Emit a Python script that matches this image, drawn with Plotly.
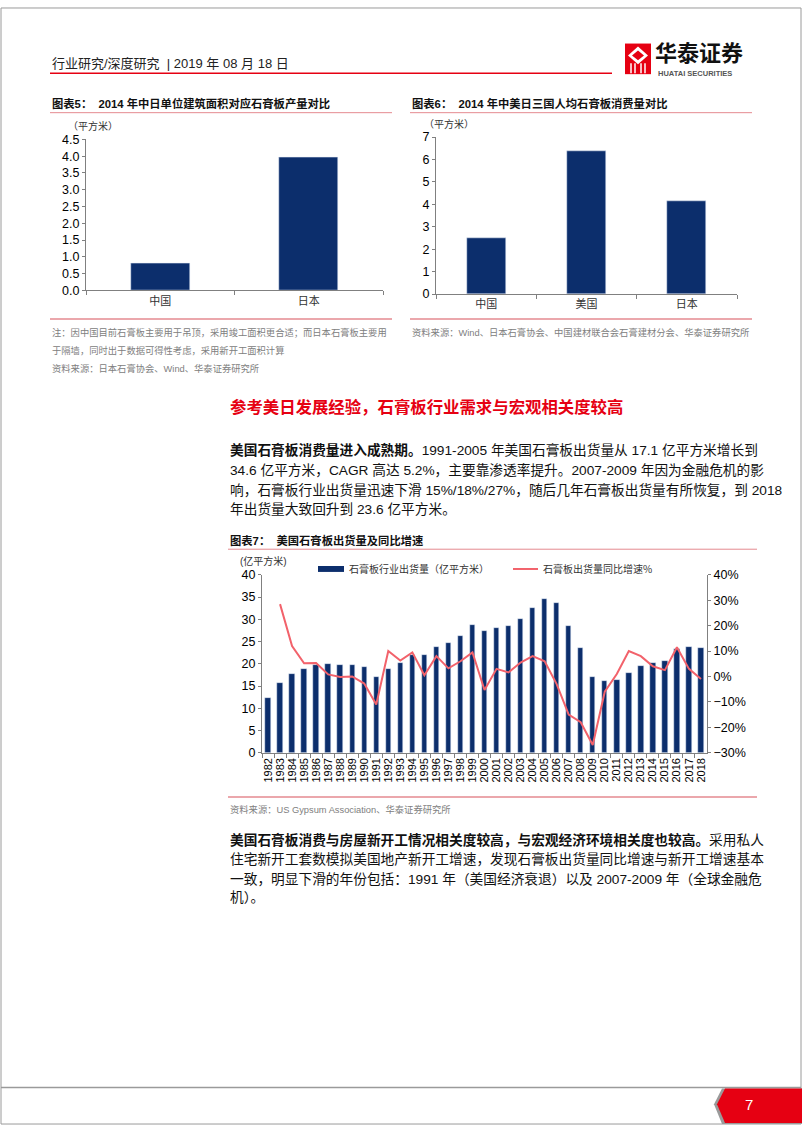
import plotly.graph_objects as go

W, H = 802, 1133

# 图表5
c5_cats = ["中国", "日本"]
c5_vals = [0.80, 3.95]

# 图表6
c6_cats = ["中国", "美国", "日本"]
c6_vals = [2.52, 6.37, 4.15]

# 图表7
years = ["1982", "1983", "1984", "1985", "1986", "1987", "1988", "1989", "1990",
         "1991", "1992", "1993", "1994", "1995", "1996", "1997", "1998", "1999",
         "2000", "2001", "2002", "2003", "2004", "2005", "2006", "2007", "2008",
         "2009", "2010", "2011", "2012", "2013", "2014", "2015", "2016", "2017",
         "2018"]
shipments = [12.3, 15.8, 17.8, 18.8, 19.8, 19.9, 19.8, 19.8, 19.3,
             17.1, 18.9, 20.1, 22.0, 22.0, 23.9, 24.6, 26.2, 28.8,
             27.3, 28.1, 28.5, 30.1, 32.6, 34.5, 33.7, 28.5, 23.5,
             17.1, 16.1, 16.3, 17.9, 19.5, 20.2, 20.7, 23.3, 23.9,
             23.6]
growth = [None, 28.5, 12.0, 5.2, 5.3, 0.8, -0.2, 0.0, -2.8,
          -11.0, 10.0, 6.3, 9.5, 0.5, 8.0, 3.2, 6.0, 9.5,
          -5.3, 3.0, 1.6, 5.5, 8.0, 6.0, -3.0, -15.0, -18.0,
          -27.0, -6.0, 1.0, 10.0, 8.0, 4.0, 2.5, 11.5, 3.0,
          -1.0]
growth = [None if g is None else g / 100 for g in growth]

NAVY = "#0C2E6C"
CORAL = "#F2626B"
RED = "#E60012"
PINK = "#E58A90"
GREY = "#808080"
CJK = "Noto Sans CJK SC"
MIX = "Liberation Sans, Noto Sans CJK SC"


def X(px):
    return px / W


def Y(py):
    return 1 - py / H


fig = go.Figure()

fig.add_trace(go.Bar(x=c5_cats, y=c5_vals, marker_color=NAVY, width=0.4,
                     xaxis="x", yaxis="y", showlegend=False))
fig.add_trace(go.Bar(x=c6_cats, y=c6_vals, marker_color=NAVY, width=0.39,
                     xaxis="x2", yaxis="y2", showlegend=False))
fig.add_trace(go.Bar(x=years, y=shipments, marker_color=NAVY, width=0.45,
                     xaxis="x3", yaxis="y3", showlegend=False))
fig.add_trace(go.Scatter(x=years, y=growth, mode="lines",
                         line=dict(color=CORAL, width=2),
                         xaxis="x3", yaxis="y4", showlegend=False))

xcommon = dict(type="category", showline=True, linecolor=GREY, linewidth=1,
               ticks="outside", tickson="boundaries", ticklen=4, tickcolor=GREY,
               showgrid=False, zeroline=False, fixedrange=True)
ycommon = dict(showline=True, linecolor=GREY, linewidth=1, ticks="outside",
               ticklen=3, tickcolor=GREY, showgrid=False, zeroline=False,
               tickfont=dict(family=MIX, size=12.5, color="#000"))

fig.update_layout(
    width=W, height=H, margin=dict(l=0, r=0, t=0, b=0),
    paper_bgcolor="white", plot_bgcolor="white",
    bargap=0,
    xaxis=dict(xcommon, domain=[X(86), X(383)], anchor="y",
               tickfont=dict(family=CJK, size=11, color="#333")),
    yaxis=dict(ycommon, domain=[Y(287), Y(134)], anchor="x",
               range=[0, 4.5], dtick=0.5, tickformat=".1f"),
    xaxis2=dict(xcommon, domain=[X(436), X(737)], anchor="y2",
                tickfont=dict(family=CJK, size=11, color="#333")),
    yaxis2=dict(ycommon, domain=[Y(290.7), Y(131.7)], anchor="x2",
                range=[0, 7], dtick=1),
    xaxis3=dict(xcommon, domain=[X(262), X(707)], anchor="y3", tickangle=-90,
                tickmode="linear", dtick=1,
                tickfont=dict(family=MIX, size=11, color="#000")),
    yaxis3=dict(ycommon, domain=[Y(755), Y(575)], anchor="x3",
                range=[0, 40], dtick=5),
    yaxis4=dict(ycommon, overlaying="y3", side="right", anchor="x3",
                range=[-0.3, 0.4], dtick=0.1, tickformat=".0%"),
)

shapes = []
annots = []


def line(x0, y0, x1, y1, color, width=1):
    shapes.append(dict(type="line", xref="paper", yref="paper",
                       x0=X(x0), y0=Y(y0), x1=X(x1), y1=Y(y1),
                       line=dict(color=color, width=width)))


def text(x, y, s, size, color="#000", family=CJK, anchor="left"):
    annots.append(dict(x=X(x), y=Y(y), xref="paper", yref="paper", text=s,
                       showarrow=False, xanchor=anchor, yanchor="middle",
                       font=dict(family=family, size=size, color=color)))


# page frame
shapes.append(dict(type="rect", xref="paper", yref="paper",
                   x0=X(1), y0=Y(1), x1=X(801), y1=Y(1131),
                   line=dict(color="#9A9A9A", width=1)))

# header
text(50, 57, "行业研究/深度研究 &nbsp;| 2019 年 08 月 18 日", 13, "#222", MIX)
line(50, 67, 612, 67, RED, 1.5)
shapes.append(dict(type="rect", xref="paper", yref="paper",
                   x0=X(625), y0=Y(37), x1=X(651), y1=Y(68),
                   fillcolor=RED, line=dict(width=0)))
shapes.append(dict(type="path", xref="paper", yref="paper",
                   path="M {} {} L {} {} L {} {} L {} {} Z".format(
                       X(638), Y(40), X(648), Y(49), X(638), Y(58), X(628), Y(49)),
                   fillcolor="white", line=dict(width=0)))
shapes.append(dict(type="path", xref="paper", yref="paper",
                   path="M {} {} L {} {} L {} {} L {} {} Z".format(
                       X(638), Y(44), X(644), Y(49), X(638), Y(54), X(632), Y(49)),
                   fillcolor=RED, line=dict(width=0)))
for vx in [631, 635, 641, 645]:
    line(vx, 57, vx, 67, "white", 1.5)
text(653, 45, "<b>华泰证券</b>", 22, "#111")
text(656, 67, "<b>HUATAI SECURITIES</b>", 7.5, "#555", MIX)

# chart 5 / 6 frames and notes
text(50, 98, "<b>图表5：  2014 年中日单位建筑面积对应石膏板产量对比</b>", 11.3, "#111", MIX)
line(50, 107, 392, 107, PINK, 1)
text(66, 120, "（平方米）", 10, "#333")
line(50, 316, 392, 316, PINK, 1.5)
text(410, 98, "<b>图表6：  2014 年中美日三国人均石膏板消费量对比</b>", 11.3, "#111", MIX)
line(410, 107, 752, 107, PINK, 1)
text(422, 118, "（平方米）", 10, "#333")
line(410, 316, 752, 316, PINK, 1.5)

NOTE = "#808080"
text(50, 330, "注：因中国目前石膏板主要用于吊顶，采用竣工面积更合适；而日本石膏板主要用", 9.3, NOTE, MIX)
text(50, 348, "于隔墙，同时出于数据可得性考虑，采用新开工面积计算", 9.3, NOTE, MIX)
text(50, 366, "资料来源：日本石膏协会、Wind、华泰证券研究所", 9.3, NOTE, MIX)
text(410, 330, "资料来源：Wind、日本石膏协会、中国建材联合会石膏建材分会、华泰证券研究所", 9.3, NOTE, MIX)

# section text
text(228, 404, "<b>参考美日发展经验，石膏板行业需求与宏观相关度较高</b>", 16.4, RED)
BODY = 13.7
text(228, 449, "<b>美国石膏板消费量进入成熟期。</b>1991-2005 年美国石膏板出货量从 17.1 亿平方米增长到", BODY, "#111", MIX)
text(228, 469, "34.6 亿平方米，CAGR 高达 5.2%，主要靠渗透率提升。2007-2009 年因为金融危机的影", BODY, "#111", MIX)
text(228, 489, "响，石膏板行业出货量迅速下滑 15%/18%/27%，随后几年石膏板出货量有所恢复，到 2018", BODY, "#111", MIX)
text(228, 508, "年出货量大致回升到 23.6 亿平方米。", BODY, "#111", MIX)

# chart 7 frame
text(228, 540, "<b>图表7：  美国石膏板出货量及同比增速</b>", 11.3, "#111", MIX)
line(228, 549, 757, 549, PINK, 1)
text(238, 561, "(亿平方米)", 10, "#333", MIX)
shapes.append(dict(type="rect", xref="paper", yref="paper",
                   x0=X(318), y0=Y(566), x1=X(344), y1=Y(572),
                   fillcolor=NAVY, line=dict(width=0)))
text(347, 569, "石膏板行业出货量（亿平方米）", 10, "#333")
line(513, 569, 538, 569, CORAL, 2)
text(541, 569, "石膏板出货量同比增速%", 10, "#333")
line(228, 800, 757, 800, PINK, 1.5)
text(228, 813, "资料来源：US Gypsum Association、华泰证券研究所", 9.3, NOTE, MIX)

text(228, 843, "<b>美国石膏板消费与房屋新开工情况相关度较高，与宏观经济环境相关度也较高。</b>采用私人", BODY, "#111", MIX)
text(228, 863, "住宅新开工套数模拟美国地产新开工增速，发现石膏板出货量同比增速与新开工增速基本", BODY, "#111", MIX)
text(228, 883, "一致，明显下滑的年份包括：1991 年（美国经济衰退）以及 2007-2009 年（全球金融危", BODY, "#111", MIX)
text(228, 902, "机）。", BODY, "#111", MIX)

# footer
line(1, 1094, 801, 1094, "#9A9A9A", 1.5)
shapes.append(dict(type="path", xref="paper", yref="paper",
                   path="M {} {} L {} {} L {} {} L {} {} L {} {} Z".format(
                       X(722), Y(1095), X(714), Y(1111), X(722), Y(1131),
                       X(802), Y(1131), X(802), Y(1095)),
                   fillcolor="#9A9A9A", line=dict(width=0)))
shapes.append(dict(type="path", xref="paper", yref="paper",
                   path="M {} {} L {} {} L {} {} L {} {} L {} {} Z".format(
                       X(725), Y(1095), X(717), Y(1111), X(725), Y(1130),
                       X(802), Y(1130), X(802), Y(1095)),
                   fillcolor=RED, line=dict(width=0)))
text(749, 1111, "7", 15, "white", MIX, anchor="center")

fig.update_layout(shapes=shapes, annotations=annots)
# the page body otherwise adds an 8px margin around the figure
fig.write_html("out.html", config={"displayModeBar": False},
               post_script="document.body.style.margin='0';")
